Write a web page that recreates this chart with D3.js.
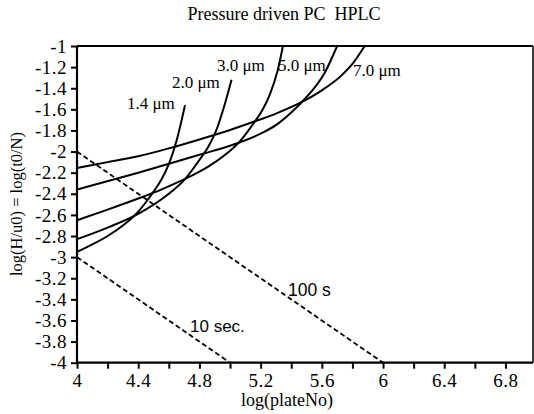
<!DOCTYPE html>
<html><head><meta charset="utf-8">
<script src="https://cdn.jsdelivr.net/npm/d3@7"></script>
<style>body{margin:0;background:#fff}svg{display:block}</style>
</head><body>
<svg id="c" width="534" height="414"></svg>
<script>
const title = "Pressure driven PC\u00a0\u00a0HPLC";
const xLabel = "log(plateNo)";
const yLabel = "log(H/u0) = log(t0/N)";
const xTicks = [4.0,4.2,4.4,4.6,4.8,5.0,5.2,5.4,5.6,5.8,6.0,6.2,6.4,6.6,6.8];
const xTickLabels = ["4","","4.4","","4.8","","5.2","","5.6","","6","","6.4","","6.8"];
const yTicks = [-4,-3.8,-3.6,-3.4,-3.2,-3,-2.8,-2.6,-2.4,-2.2,-2,-1.8,-1.6,-1.4,-1.2,-1];
const yTickLabels = ["-4","-3.8","-3.6","-3.4","-3.2","-3","-2.8","-2.6","-2.4","-2.2","-2","-1.8","-1.6","-1.4","-1.2","-1"];

const curveNames = ["1.4 \u03bcm","2.0 \u03bcm","3.0 \u03bcm","5.0 \u03bcm","7.0 \u03bcm"];
const curve14 = [[4.0,-2.95],[4.1,-2.88],[4.2,-2.80],[4.3,-2.70],[4.4,-2.57],[4.45,-2.48],[4.5,-2.38],[4.55,-2.27],[4.6,-2.12],[4.65,-1.90],[4.706,-1.56]];
const curve20 = [[4.0,-2.83],[4.2,-2.72],[4.4,-2.59],[4.6,-2.40],[4.7,-2.27],[4.8,-2.08],[4.86,-1.95],[4.91,-1.80],[4.96,-1.58],[5.01,-1.32]];
const curve30 = [[4.0,-2.65],[4.2,-2.55],[4.4,-2.445],[4.55,-2.36],[4.66,-2.29],[4.76,-2.22],[4.86,-2.14],[4.96,-2.04],[5.06,-1.91],[5.11,-1.82],[5.16,-1.72],[5.21,-1.61],[5.26,-1.46],[5.31,-1.24],[5.346,-1.0]];
const curve50 = [[4.0,-2.36],[4.4,-2.20],[4.8,-2.03],[5.0,-1.945],[5.2,-1.83],[5.3,-1.75],[5.4,-1.63],[5.47,-1.53],[5.55,-1.40],[5.62,-1.25],[5.70,-1.0]];
const curve70 = [[4.0,-2.155],[4.2,-2.10],[4.4,-2.045],[4.6,-1.97],[4.8,-1.885],[5.0,-1.795],[5.15,-1.72],[5.3,-1.64],[5.47,-1.53],[5.6,-1.42],[5.72,-1.29],[5.8,-1.17],[5.88,-1.0]];
const curves = [curve14, curve20, curve30, curve50, curve70];

const dash10 = [[4.0,-3.0],[5.0,-4.0]];
const dash100 = [[4.0,-2.0],[6.0,-4.0]];
const dashNames = ["10 sec.","100 s"];

const svg = d3.select("#c");
const x = d3.scaleLinear().domain([4,6.98]).range([77,533]);
const y = d3.scaleLinear().domain([-4,-1]).range([362.7,46]);
const serif = "Liberation Serif";

svg.append("text").attr("x",284).attr("y",20).attr("text-anchor","middle")
  .attr("font-family",serif).attr("font-size",18).text(title);

const xa = svg.append("g").attr("transform",`translate(0,${y(-4)})`)
  .call(d3.axisBottom(x).tickValues(xTicks).tickSize(6).tickFormat((d,i)=>xTickLabels[i]));
xa.select(".domain").attr("stroke-width",2.2).attr("d",`M${x(4)},0H${x(6.98)}`);
xa.selectAll(".tick line").attr("stroke-width",2);
xa.selectAll(".tick text").attr("font-family",serif).attr("font-size",19).attr("letter-spacing",0.5)
  .attr("y",8).attr("dy","0.85em").attr("fill","#000");

const ya = svg.append("g").attr("transform",`translate(${x(4)},0)`)
  .call(d3.axisLeft(y).tickValues(yTicks).tickSize(6).tickFormat((d,i)=>yTickLabels[i]));
ya.select(".domain").attr("stroke-width",2.2).attr("d",`M0,${y(-4)}V${y(-1)}`);
ya.selectAll(".tick line").attr("stroke-width",2);
ya.selectAll(".tick text").attr("font-family",serif).attr("font-size",19).attr("letter-spacing",0.5)
  .attr("fill","#000").attr("x",-10);

// frame top & right
svg.append("line").attr("x1",x(4)).attr("x2",x(6.98)).attr("y1",y(-1)).attr("y2",y(-1)).attr("stroke","#000").attr("stroke-width",2.2);
svg.append("line").attr("x1",x(6.98)).attr("x2",x(6.98)).attr("y1",y(-1)).attr("y2",y(-4)).attr("stroke","#000").attr("stroke-width",1.5);

svg.append("text").attr("x",287).attr("y",406).attr("text-anchor","middle")
  .attr("font-family",serif).attr("font-size",18).text(xLabel);
svg.append("text").attr("transform","translate(22,204) rotate(-90)").attr("text-anchor","middle")
  .attr("font-family",serif).attr("font-size",16.5).text(yLabel);

const line = d3.line().x(d=>x(d[0])).y(d=>y(d[1])).curve(d3.curveMonotoneX);
curves.forEach(c=>{
  svg.append("path").attr("d",line(c)).attr("fill","none").attr("stroke","#000").attr("stroke-width",2);
});
const lin = d3.line().x(d=>x(d[0])).y(d=>y(d[1]));
[dash10,dash100].forEach(c=>{
  svg.append("path").attr("d",lin(c)).attr("fill","none").attr("stroke","#000").attr("stroke-width",1.8).attr("stroke-dasharray","5,3");
});

// curve labels (pixel anchors)
const labPos = [[127,109],[172,88],[217,71],[278,71],[353,76]];
curveNames.forEach((n,i)=>{
  svg.append("text").attr("x",labPos[i][0]).attr("y",labPos[i][1]).attr("font-family",serif)
    .attr("font-size",17).text(n);
});
svg.append("text").attr("x",190).attr("y",332).attr("font-family","Liberation Sans").attr("font-size",17).text(dashNames[0]);
svg.append("text").attr("x",288).attr("y",296).attr("font-family","Liberation Sans").attr("font-size",17.5).text(dashNames[1]);
</script>
</body></html>
